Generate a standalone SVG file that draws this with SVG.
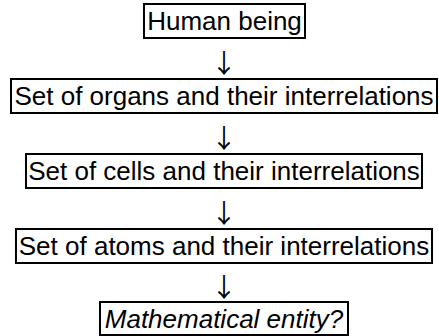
<svg xmlns="http://www.w3.org/2000/svg" width="439" height="336" viewBox="0 0 439 336">
<style>
.box{fill:#fff;stroke:#000;stroke-width:2}
.t{font-family:"Liberation Sans",Arial,sans-serif;font-size:26px;fill:#000;text-anchor:middle}
.it{font-style:italic}
.arr{font-family:"Noto Sans CJK JP","DejaVu Sans",sans-serif;font-size:26px;fill:#000;text-anchor:middle}
</style>
<rect width="439" height="336" fill="#fff"/>
<g id="connectors">
<text class="arr" x="224" y="73">↓</text>
<text class="arr" x="224" y="148">↓</text>
<text class="arr" x="224" y="223">↓</text>
<text class="arr" x="224" y="297">↓</text>
</g>
<g id="human">
<rect class="box" x="144" y="4" width="161" height="34"/>
<text class="t" x="224.5" y="30">Human being</text>
</g>
<g id="organs">
<rect class="box" x="11" y="79" width="426" height="34"/>
<text class="t" x="224" y="105">Set of organs and their interrelations</text>
</g>
<g id="cells">
<rect class="box" x="26" y="154" width="396" height="34"/>
<text class="t" x="224" y="180">Set of cells and their interrelations</text>
</g>
<g id="atoms">
<rect class="box" x="16" y="229" width="416" height="34"/>
<text class="t" x="224" y="255">Set of atoms and their interrelations</text>
</g>
<g id="math">
<rect class="box" x="100" y="302" width="248" height="33"/>
<text class="t it" x="224" y="328">Mathematical entity?</text>
</g>
</svg>
